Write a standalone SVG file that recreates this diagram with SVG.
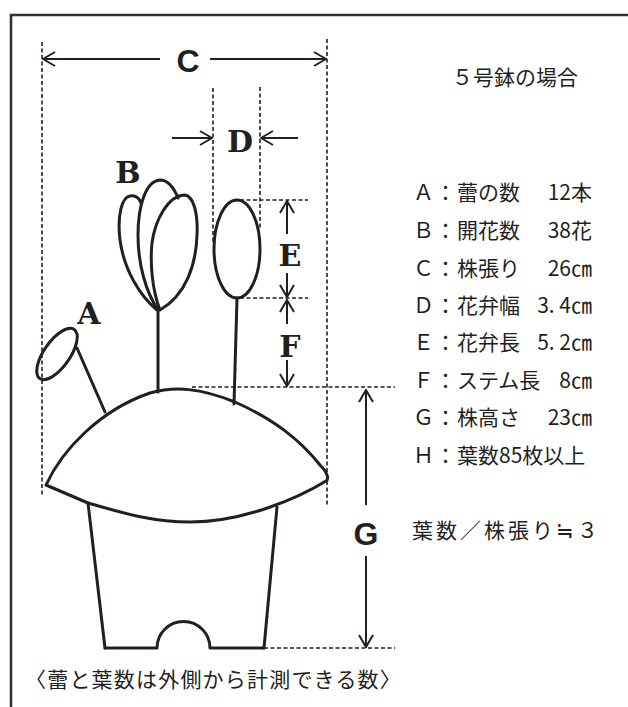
<svg xmlns="http://www.w3.org/2000/svg" width="628" height="707" viewBox="0 0 628 707">
  <defs>
    <marker id="head" viewBox="0 0 14 16" refX="13" refY="8" markerWidth="14" markerHeight="16" markerUnits="userSpaceOnUse" orient="auto">
      <path d="M1,1 L13,8 L1,15" fill="none" stroke="#231f20" stroke-width="2"/>
    </marker>
    <style>
      .frame { fill: none; stroke: #333; stroke-width: 2.6; }
      .dash { fill: none; stroke: #231f20; stroke-width: 1.6; stroke-dasharray: 4 2.5; }
      .arrow { fill: none; stroke: #231f20; stroke-width: 2; marker-end: url(#head); }
      .plant { fill: none; stroke: #231f20; stroke-width: 3; stroke-linejoin: round; stroke-linecap: round; }
      .letter { font-family: "DejaVu Serif", "Liberation Serif", serif; font-weight: bold; font-size: 30px; fill: #231f20; text-anchor: middle; }
      .sans-letter { font-family: "Liberation Sans", Arial, sans-serif; font-weight: bold; font-size: 32px; fill: #231f20; text-anchor: middle; }
      .jp { font-family: "Noto Sans CJK JP", "Noto Sans", sans-serif; font-size: 21px; fill: #231f20; }
      .val { text-anchor: end; }
    </style>
  </defs>

  <!-- outer frame (runs off right and bottom edges) -->
  <path class="frame" d="M11,707 V15 H630"/>

  <!-- dimension guides and arrows -->
  <g id="connectors">
    <line class="dash" x1="42" y1="42" x2="42" y2="495"/>
    <line class="dash" x1="327" y1="39" x2="327" y2="505"/>
    <line class="dash" x1="213" y1="88" x2="213" y2="243"/>
    <line class="dash" x1="260" y1="87" x2="260" y2="230"/>
    <line class="dash" x1="240" y1="200" x2="308" y2="200"/>
    <line class="dash" x1="240" y1="298" x2="308" y2="298"/>
    <line class="dash" x1="192" y1="387" x2="395" y2="387"/>
    <line class="dash" x1="264" y1="648" x2="395" y2="648"/>

    <line class="arrow" x1="160" y1="59" x2="43" y2="59"/>
    <line class="arrow" x1="210" y1="59" x2="326" y2="59"/>
    <line class="arrow" x1="172" y1="138" x2="212" y2="138"/>
    <line class="arrow" x1="298" y1="138" x2="261" y2="138"/>
    <line class="arrow" x1="287" y1="234" x2="287" y2="201"/>
    <line class="arrow" x1="287" y1="273" x2="287" y2="297"/>
    <line class="arrow" x1="287" y1="324" x2="287" y2="300"/>
    <line class="arrow" x1="287" y1="360" x2="287" y2="386"/>
    <line class="arrow" x1="366" y1="505" x2="366" y2="390"/>
    <line class="arrow" x1="366" y1="556" x2="366" y2="647"/>
  </g>

  <!-- plant in pot -->
  <g id="pot">
    <path class="plant" d="M88,503 L105,648 M277,507 L264,648"/>
    <path class="plant" stroke-width="3.5" d="M105,648 H157 A26.5,26.5 0 0 1 210,648 H264"/>
  </g>
  <g id="foliage">
    <path class="plant" d="M46,485 C62,450 100,410 150,393 C175,386 200,388 235,402 C275,420 300,440 320,465 C328,473 329,479 326,481 C300,497 245,522 190,522 C150,522 120,512 88,503 L46,485 Z"/>
  </g>
  <g id="bud-a">
    <ellipse class="plant" cx="57" cy="354" rx="30" ry="13" transform="rotate(-55 57 354)"/>
    <line class="plant" x1="77" y1="348" x2="105" y2="412"/>
  </g>
  <g id="flower-b">
    <path class="plant" d="M157,310 C140,296 124,270 120,240 C117,215 122,197 130,196 C135,195 139,198 141,203"/>
    <path class="plant" d="M158,310 C146,292 138,265 138,235 C138,205 146,181 160,180 C168,180 174,188 178,198"/>
    <path class="plant" d="M160,310 C152,290 150,262 152,243 C155,220 168,196 184,195 C194,195 198,215 197,235 C196,265 186,295 160,310 Z"/>
    <line class="plant" x1="158" y1="310" x2="158" y2="392"/>
  </g>
  <g id="flower-e">
    <ellipse class="plant" cx="237" cy="249" rx="23" ry="49"/>
    <line class="plant" x1="237" y1="298" x2="234" y2="404"/>
  </g>

  <!-- dimension letters -->
  <g id="labels">
    <text class="sans-letter" x="188" y="72">C</text>
    <text class="letter" x="240" y="152">D</text>
    <text class="letter" x="128" y="183">B</text>
    <text class="letter" x="290" y="266">E</text>
    <text class="letter" x="89" y="324">A</text>
    <text class="letter" x="290" y="357">F</text>
    <text class="sans-letter" x="366" y="545">G</text>
  </g>

  <!-- legend: key letter, colon, item name, value -->
  <g id="legend">
    <text class="jp" x="452" y="85">５号鉢の場合</text>

    <text class="jp" x="413" y="200">Ａ</text><text class="jp" x="435" y="200">：</text><text class="jp" x="457" y="200">蕾の数</text><text class="jp val" x="592" y="200">12本</text>
    <text class="jp" x="413" y="238">Ｂ</text><text class="jp" x="435" y="238">：</text><text class="jp" x="457" y="238">開花数</text><text class="jp val" x="592" y="238">38花</text>
    <text class="jp" x="413" y="276">Ｃ</text><text class="jp" x="435" y="276">：</text><text class="jp" x="457" y="276">株張り</text><text class="jp val" x="592" y="276">26㎝</text>
    <text class="jp" x="413" y="313">Ｄ</text><text class="jp" x="435" y="313">：</text><text class="jp" x="457" y="313">花弁幅</text><text class="jp val" x="592" y="313">3. 4㎝</text>
    <text class="jp" x="413" y="350">Ｅ</text><text class="jp" x="435" y="350">：</text><text class="jp" x="457" y="350">花弁長</text><text class="jp val" x="592" y="350">5. 2㎝</text>
    <text class="jp" x="413" y="388">Ｆ</text><text class="jp" x="435" y="388">：</text><text class="jp" x="457" y="388">ステム長</text><text class="jp val" x="592" y="388">8㎝</text>
    <text class="jp" x="413" y="425">Ｇ</text><text class="jp" x="435" y="425">：</text><text class="jp" x="457" y="425">株高さ</text><text class="jp val" x="592" y="425">23㎝</text>
    <text class="jp" x="413" y="463">Ｈ</text><text class="jp" x="435" y="463">：</text><text class="jp" x="457" y="463">葉数85枚以上</text>

    <text class="jp" x="412" y="538" font-size="22" letter-spacing="3">葉数／株張り≒３</text>
  </g>

  <text class="jp" x="25" y="687" font-size="23" letter-spacing="1.2">〈蕾と葉数は外側から計測できる数〉</text>
</svg>
